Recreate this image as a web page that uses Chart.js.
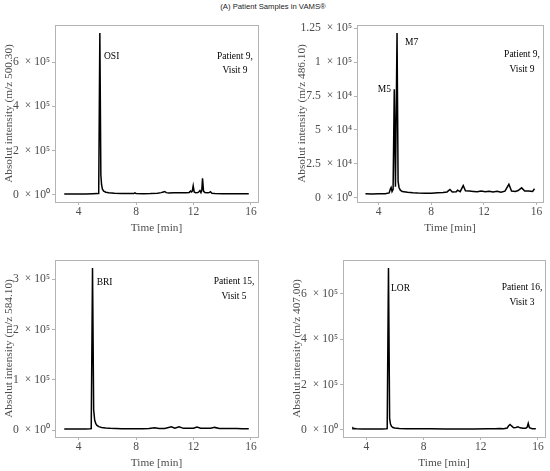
<!DOCTYPE html>
<html>
<head>
<meta charset="utf-8">
<script src="https://cdn.jsdelivr.net/npm/chart.js@4.4.1/dist/chart.umd.min.js"></script>
<style>
    body { margin: 0; background: #fff; }
    #wrap { position: relative; width: 550px; height: 471px; overflow: hidden; }
    #title { position: absolute; left: 0; top: 2px; width: 546px; text-align: center;
             font: 7.7px "Liberation Sans", Arial, sans-serif; color: #222; }
    canvas { position: absolute; }
</style>
</head>
<body>
<div id="wrap">
    <div id="title">(A) Patient Samples in VAMS®</div>
    <canvas id="osi" width="275" height="220" style="left:0;top:15px"></canvas>
    <canvas id="m57" width="275" height="220" style="left:275px;top:15px"></canvas>
    <canvas id="bri" width="275" height="220" style="left:0;top:250px"></canvas>
    <canvas id="lor" width="275" height="220" style="left:275px;top:250px"></canvas>
</div>
<script>
// time ticks shared by all four panels
var timeTicks = [4, 8, 12, 16];

// OSI, m/z 500.30
var osiTime = [3.0, 3.5, 4.0, 4.5, 5.0, 5.3, 5.40, 5.48, 5.55, 5.6, 5.66, 5.75, 5.9, 6.1, 6.5, 7.0, 7.5, 7.85, 7.92, 8.0, 8.5, 9.0, 9.5, 9.75, 9.9, 10.0, 10.1, 10.3, 10.6, 10.9, 11.2, 11.5, 11.7, 11.8, 11.87, 11.92, 11.98, 12.05, 12.15, 12.3, 12.38, 12.45, 12.52, 12.58, 12.63, 12.7, 12.8, 12.95, 13.1, 13.18, 13.28, 13.5, 14.0, 14.5, 15.0, 15.5, 15.85];
var osiIntensity = [3000, 3100, 3000, 3200, 3800, 4500, 5000, 732000, 90000, 45000, 25000, 16000, 11000, 8000, 6000, 5000, 4500, 5000, 8000, 5000, 4200, 4500, 6000, 9000, 12000, 14000, 9000, 7500, 8000, 8500, 8000, 8500, 10000, 16000, 12000, 17000, 40000, 12000, 8000, 9000, 13000, 18000, 9000, 20000, 74000, 15000, 9000, 8000, 9000, 13000, 6500, 5000, 4000, 3800, 3600, 3500, 3500];
var osiTicks = [0, 200000, 400000, 600000];
var osiTickLabels = ['0 × 10⁰', '2 × 10⁵', '4 × 10⁵', '6 × 10⁵'];

// M5 / M7, m/z 486.10
var m57Time = [3.0, 3.5, 4.0, 4.5, 4.8, 4.9, 4.95, 5.02, 5.1, 5.19, 5.28, 5.31, 5.40, 5.48, 5.55, 5.65, 5.8, 6.2, 6.6, 7.0, 7.5, 8.0, 8.5, 8.9, 9.2, 9.42, 9.6, 9.9, 10.0, 10.2, 10.43, 10.6, 10.9, 11.2, 11.5, 11.8, 12.1, 12.4, 12.7, 13.0, 13.3, 13.6, 13.9, 14.1, 14.4, 14.6, 14.87, 15.1, 15.4, 15.7, 15.85];
var m57Intensity = [2800, 2700, 2800, 2900, 3500, 6500, 7500, 4500, 6000, 80000, 8000, 8000, 121500, 12000, 7500, 5500, 4500, 4000, 3600, 3400, 3300, 3200, 3500, 3800, 4200, 6000, 4200, 4300, 5500, 4400, 8900, 5000, 4800, 4600, 4400, 4800, 4300, 4700, 4200, 4600, 4000, 4800, 9800, 4800, 4600, 5200, 7200, 4900, 4800, 4500, 6500];
var m57Ticks = [0, 25000, 50000, 75000, 100000, 125000];
var m57TickLabels = ['0 × 10⁰', '2.5 × 10⁴', '5 × 10⁴', '7.5 × 10⁴', '1 × 10⁵', '1.25 × 10⁵'];

// BRI, m/z 584.10
var briTime = [3.0, 3.5, 4.0, 4.5, 4.8, 4.88, 4.97, 5.05, 5.12, 5.2, 5.28, 5.41, 5.6, 5.88, 6.2, 6.6, 7.0, 7.5, 8.0, 8.5, 8.9, 9.3, 9.6, 10.0, 10.46, 10.7, 11.0, 11.3, 11.7, 12.0, 12.24, 12.5, 12.9, 13.2, 13.47, 13.8, 14.2, 14.6, 15.0, 15.4, 15.85];
var briIntensity = [2500, 2400, 2400, 2500, 2700, 3000, 322000, 40000, 20000, 13000, 9500, 7000, 5500, 4500, 3800, 3300, 3000, 2900, 2800, 3000, 3200, 5000, 3200, 3400, 6800, 3800, 6500, 3600, 3700, 3800, 6000, 3900, 3800, 3600, 5500, 3500, 3300, 3200, 3100, 3000, 2900];
var briTicks = [0, 100000, 200000, 300000];
var briTickLabels = ['0 × 10⁰', '1 × 10⁵', '2 × 10⁵', '3 × 10⁵'];

// LOR, m/z 407.00
var lorTime = [3.0, 3.05, 3.12, 3.3, 3.7, 4.2, 4.7, 5.1, 5.38, 5.45, 5.54, 5.62, 5.68, 5.75, 5.85, 5.98, 6.3, 6.8, 7.5, 8.5, 9.5, 10.5, 11.5, 12.5, 13.0, 13.3, 13.6, 13.85, 13.95, 14.05, 14.15, 14.3, 14.45, 14.6, 14.75, 14.95, 15.15, 15.25, 15.32, 15.4, 15.6, 15.85];
var lorIntensity = [5000, 8500, 5500, 4000, 3700, 3600, 3600, 3800, 4500, 5000, 714000, 50000, 25000, 15000, 10000, 7500, 5500, 4800, 4300, 4000, 3800, 3800, 3900, 4200, 4500, 5500, 4800, 8000, 18000, 23600, 17000, 9000, 10000, 13000, 8500, 7000, 6500, 12000, 28000, 9000, 5000, 4200];
var lorTicks = [0, 200000, 400000, 600000];
var lorTickLabels = ['0 × 10⁰', '2 × 10⁵', '4 × 10⁵', '6 × 10⁵'];

var serif = '"Liberation Serif", "Times New Roman", serif';
var grey = '#4d4d4d';
var frame = '#b3b3b3';

// peak names and sample notes, anchored in data units
var notes = {
    osi: [{ t: 5.77, v: 628000, text: 'OSI', align: 'left' },
          { t: 14.89, v: 628000, text: 'Patient 9,\nVisit 9', align: 'center' }],
    m57: [{ t: 6.0, v: 114400, text: 'M7', align: 'left' },
          { t: 4.94, v: 80000, text: 'M5', align: 'right' },
          { t: 14.9, v: 105300, text: 'Patient 9,\nVisit 9', align: 'center' }],
    bri: [{ t: 5.26, v: 292900, text: 'BRI', align: 'left' },
          { t: 14.82, v: 294900, text: 'Patient 15,\nVisit 5', align: 'center' }],
    lor: [{ t: 5.72, v: 624500, text: 'LOR', align: 'left' },
          { t: 14.88, v: 627200, text: 'Patient 16,\nVisit 3', align: 'center' }]
};

var panelFrame = {
    id: 'panelFrame',
    afterDraw: function(chart) {
        var a = chart.chartArea, ctx = chart.ctx;
        ctx.save();
        ctx.strokeStyle = frame;
        ctx.lineWidth = 1;
        ctx.strokeRect(Math.round(a.left) + 0.5, Math.round(a.top) + 0.5,
                       Math.round(a.right - a.left), Math.round(a.bottom - a.top));
        var list = notes[chart.canvas.id] || [];
        ctx.fillStyle = '#000';
        ctx.font = '9.5px ' + serif;
        ctx.textBaseline = 'middle';
        list.forEach(function(n) {
            var x = chart.scales.x.getPixelForValue(n.t);
            var y = chart.scales.y.getPixelForValue(n.v);
            ctx.textAlign = n.align;
            n.text.split('\n').forEach(function(line, i) {
                ctx.fillText(line, x, y + i * 14.5);
            });
        });
        ctx.restore();
    }
};

function expand(values) {
    var lo = Math.min.apply(null, values), hi = Math.max.apply(null, values);
    var pad = (hi - lo) * 0.05;
    return [lo - pad, hi + pad];
}

function drawPanel(id, time, intensity, yTicks, yLabels, yTitle, box) {
    var xr = expand(time), yr = expand(intensity);
    var points = time.map(function(t, i) { return { x: t, y: intensity[i] }; });
    new Chart(document.getElementById(id), {
        type: 'line',
        data: {
            datasets: [{
                data: points,
                borderColor: '#000',
                borderWidth: 1.5,
                pointRadius: 0,
                tension: 0,
                fill: false
            }]
        },
        options: {
            responsive: false,
            animation: false,
            parsing: false,
            layout: { padding: { left: box.padLeft, top: 10, right: 275 - box.right, bottom: 0 } },
            plugins: { legend: { display: false }, tooltip: { enabled: false } },
            scales: {
                x: {
                    type: 'linear',
                    min: xr[0],
                    max: xr[1],
                    afterBuildTicks: function(s) { s.ticks = timeTicks.map(function(v) { return { value: v }; }); },
                    afterFit: function(s) { s.height = 33; },
                    grid: { drawOnChartArea: false, drawTicks: true, tickLength: 3, color: frame },
                    border: { display: false },
                    ticks: { color: grey, font: { family: serif, size: 11.5 }, padding: 0, maxRotation: 0, autoSkip: false },
                    title: { display: true, text: 'Time [min]', color: grey, font: { family: serif, size: 11.3 }, padding: { top: 0, bottom: 0.5 } }
                },
                y: {
                    type: 'linear',
                    min: yr[0],
                    max: yr[1],
                    afterBuildTicks: function(s) { s.ticks = yTicks.map(function(v) { return { value: v }; }); },
                    afterFit: function(s) { s.width = box.left - box.padLeft; },
                    grid: { drawOnChartArea: false, drawTicks: true, tickLength: 3, color: frame },
                    border: { display: false },
                    ticks: {
                        color: grey, font: { family: serif, size: 11.7 }, padding: 2, autoSkip: false,
                        callback: function(v, i) { return yLabels[i].replace(' × ', '  × '); }
                    },
                    title: { display: true, text: yTitle, color: grey, font: { family: serif, size: 11.3 }, padding: { top: 2.2, bottom: 0 } }
                }
            }
        },
        plugins: [panelFrame]
    });
}

drawPanel('osi', osiTime, osiIntensity, osiTicks, osiTickLabels, 'Absolut intensity (m/z 500.30)', { left: 55, right: 258, padLeft: 0 });
drawPanel('m57', m57Time, m57Intensity, m57Ticks, m57TickLabels, 'Absolut intensity (m/z 486.10)', { left: 82, right: 268, padLeft: 17.7 });
drawPanel('bri', briTime, briIntensity, briTicks, briTickLabels, 'Absolut intensity (m/z 584.10)', { left: 55, right: 258, padLeft: 0 });
drawPanel('lor', lorTime, lorIntensity, lorTicks, lorTickLabels, 'Absolut intensity (m/z 407.00)', { left: 68, right: 270, padLeft: 12.7 });
</script>
</body>
</html>
